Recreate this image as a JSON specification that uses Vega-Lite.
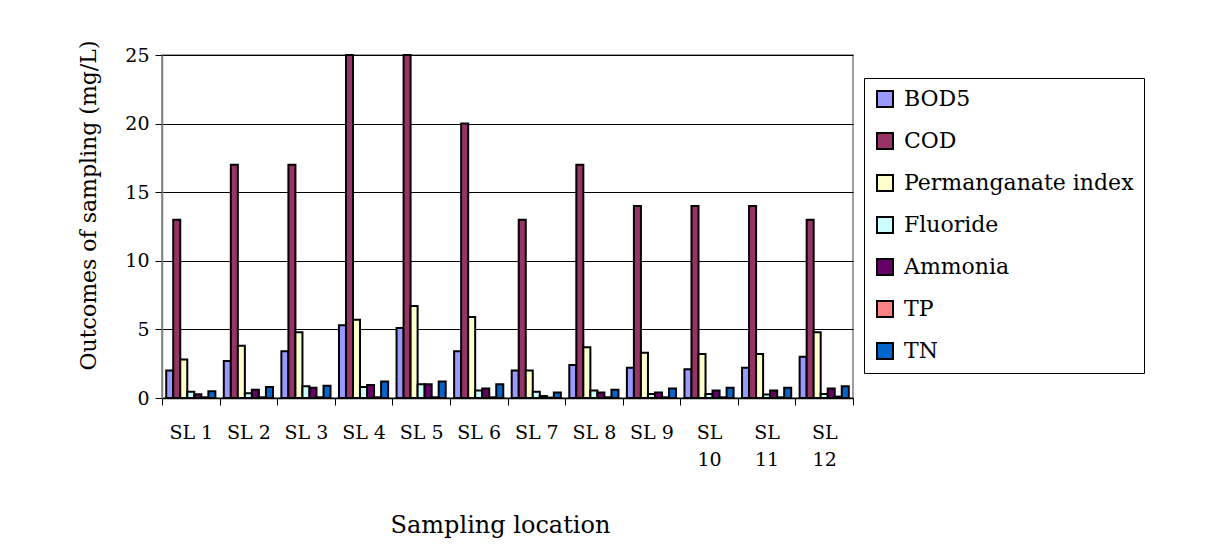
{
  "$schema": "https://vega.github.io/schema/vega-lite/v6.json",
  "width": 691,
  "height": 343,
  "autosize": "none",
  "padding": {"left": 162, "top": 55, "right": 362, "bottom": 153},
  "background": "white",
  "config": {
    "view": {"stroke": "#808080", "strokeWidth": 1.5},
    "font": "DejaVu Serif"
  },
  "data": {"values": [
    {"loc": "SL 1", "param": "BOD5", "value": 2.0},
    {"loc": "SL 1", "param": "COD", "value": 13},
    {"loc": "SL 1", "param": "Permanganate index", "value": 2.8},
    {"loc": "SL 1", "param": "Fluoride", "value": 0.45},
    {"loc": "SL 1", "param": "Ammonia", "value": 0.27},
    {"loc": "SL 1", "param": "TP", "value": 0.05},
    {"loc": "SL 1", "param": "TN", "value": 0.5},
    {"loc": "SL 2", "param": "BOD5", "value": 2.7},
    {"loc": "SL 2", "param": "COD", "value": 17},
    {"loc": "SL 2", "param": "Permanganate index", "value": 3.8},
    {"loc": "SL 2", "param": "Fluoride", "value": 0.35},
    {"loc": "SL 2", "param": "Ammonia", "value": 0.6},
    {"loc": "SL 2", "param": "TP", "value": 0.05},
    {"loc": "SL 2", "param": "TN", "value": 0.8},
    {"loc": "SL 3", "param": "BOD5", "value": 3.4},
    {"loc": "SL 3", "param": "COD", "value": 17},
    {"loc": "SL 3", "param": "Permanganate index", "value": 4.8},
    {"loc": "SL 3", "param": "Fluoride", "value": 0.85},
    {"loc": "SL 3", "param": "Ammonia", "value": 0.75},
    {"loc": "SL 3", "param": "TP", "value": 0.05},
    {"loc": "SL 3", "param": "TN", "value": 0.9},
    {"loc": "SL 4", "param": "BOD5", "value": 5.3},
    {"loc": "SL 4", "param": "COD", "value": 25},
    {"loc": "SL 4", "param": "Permanganate index", "value": 5.7},
    {"loc": "SL 4", "param": "Fluoride", "value": 0.8},
    {"loc": "SL 4", "param": "Ammonia", "value": 0.95},
    {"loc": "SL 4", "param": "TP", "value": 0.05},
    {"loc": "SL 4", "param": "TN", "value": 1.2},
    {"loc": "SL 5", "param": "BOD5", "value": 5.1},
    {"loc": "SL 5", "param": "COD", "value": 25},
    {"loc": "SL 5", "param": "Permanganate index", "value": 6.7},
    {"loc": "SL 5", "param": "Fluoride", "value": 1.0},
    {"loc": "SL 5", "param": "Ammonia", "value": 1.0},
    {"loc": "SL 5", "param": "TP", "value": 0.05},
    {"loc": "SL 5", "param": "TN", "value": 1.2},
    {"loc": "SL 6", "param": "BOD5", "value": 3.4},
    {"loc": "SL 6", "param": "COD", "value": 20},
    {"loc": "SL 6", "param": "Permanganate index", "value": 5.9},
    {"loc": "SL 6", "param": "Fluoride", "value": 0.55},
    {"loc": "SL 6", "param": "Ammonia", "value": 0.7},
    {"loc": "SL 6", "param": "TP", "value": 0.05},
    {"loc": "SL 6", "param": "TN", "value": 1.0},
    {"loc": "SL 7", "param": "BOD5", "value": 2.0},
    {"loc": "SL 7", "param": "COD", "value": 13},
    {"loc": "SL 7", "param": "Permanganate index", "value": 2.0},
    {"loc": "SL 7", "param": "Fluoride", "value": 0.45},
    {"loc": "SL 7", "param": "Ammonia", "value": 0.15},
    {"loc": "SL 7", "param": "TP", "value": 0.03},
    {"loc": "SL 7", "param": "TN", "value": 0.4},
    {"loc": "SL 8", "param": "BOD5", "value": 2.4},
    {"loc": "SL 8", "param": "COD", "value": 17},
    {"loc": "SL 8", "param": "Permanganate index", "value": 3.7},
    {"loc": "SL 8", "param": "Fluoride", "value": 0.55},
    {"loc": "SL 8", "param": "Ammonia", "value": 0.4},
    {"loc": "SL 8", "param": "TP", "value": 0.05},
    {"loc": "SL 8", "param": "TN", "value": 0.6},
    {"loc": "SL 9", "param": "BOD5", "value": 2.2},
    {"loc": "SL 9", "param": "COD", "value": 14},
    {"loc": "SL 9", "param": "Permanganate index", "value": 3.3},
    {"loc": "SL 9", "param": "Fluoride", "value": 0.3},
    {"loc": "SL 9", "param": "Ammonia", "value": 0.4},
    {"loc": "SL 9", "param": "TP", "value": 0.05},
    {"loc": "SL 9", "param": "TN", "value": 0.7},
    {"loc": "SL 10", "param": "BOD5", "value": 2.1},
    {"loc": "SL 10", "param": "COD", "value": 14},
    {"loc": "SL 10", "param": "Permanganate index", "value": 3.2},
    {"loc": "SL 10", "param": "Fluoride", "value": 0.3},
    {"loc": "SL 10", "param": "Ammonia", "value": 0.55},
    {"loc": "SL 10", "param": "TP", "value": 0.05},
    {"loc": "SL 10", "param": "TN", "value": 0.75},
    {"loc": "SL 11", "param": "BOD5", "value": 2.2},
    {"loc": "SL 11", "param": "COD", "value": 14},
    {"loc": "SL 11", "param": "Permanganate index", "value": 3.2},
    {"loc": "SL 11", "param": "Fluoride", "value": 0.25},
    {"loc": "SL 11", "param": "Ammonia", "value": 0.55},
    {"loc": "SL 11", "param": "TP", "value": 0.05},
    {"loc": "SL 11", "param": "TN", "value": 0.75},
    {"loc": "SL 12", "param": "BOD5", "value": 3.0},
    {"loc": "SL 12", "param": "COD", "value": 13},
    {"loc": "SL 12", "param": "Permanganate index", "value": 4.8},
    {"loc": "SL 12", "param": "Fluoride", "value": 0.3},
    {"loc": "SL 12", "param": "Ammonia", "value": 0.7},
    {"loc": "SL 12", "param": "TP", "value": 0.1},
    {"loc": "SL 12", "param": "TN", "value": 0.85}
  ]},
  "mark": {"type": "bar", "stroke": "black", "strokeWidth": 2},
  "encoding": {
    "x": {
      "field": "loc",
      "type": "nominal",
      "sort": null,
      "scale": {"paddingInner": 0, "paddingOuter": 0},
      "axis": {
        "title": "Sampling location",
        "titleFontSize": 24,
        "titleFontWeight": "normal",
        "titleColor": "black",
        "titleX": 338,
        "titleY": 134,
        "titleBaseline": "alphabetic",
        "titleAnchor": null,
        "labelAngle": 0,
        "labelFontSize": 19,
        "labelColor": "black",
        "labelPadding": 18,
        "labelLineHeight": 27,
        "labelExpr": "length(datum.label) > 4 ? split(datum.label, ' ') : datum.label",
        "tickBand": "extent",
        "tickColor": "black",
        "tickSize": 7,
        "domainColor": "black",
        "domainWidth": 1.5,
        "grid": false
      }
    },
    "xOffset": {
      "field": "param",
      "type": "nominal",
      "sort": ["BOD5", "COD", "Permanganate index", "Fluoride", "Ammonia", "TP", "TN"],
      "scale": {"paddingInner": 0, "paddingOuter": 0.6}
    },
    "y": {
      "field": "value",
      "type": "quantitative",
      "scale": {"domain": [0, 25], "nice": false},
      "axis": {
        "title": "Outcomes of sampling (mg/L)",
        "titleFontSize": 22,
        "titleFontWeight": "normal",
        "titleColor": "black",
        "titleX": -62,
        "titleY": 150,
        "titleAngle": -90,
        "titleAlign": "center",
        "titleBaseline": "bottom",
        "values": [0, 5, 10, 15, 20, 25],
        "labelFontSize": 19,
        "labelColor": "black",
        "labelPadding": 6,
        "tickColor": "black",
        "tickSize": 7,
        "domainColor": "#808080",
        "domainWidth": 1.5,
        "grid": true,
        "gridColor": "black",
        "gridWidth": 1
      }
    },
    "color": {
      "field": "param",
      "type": "nominal",
      "sort": ["BOD5", "COD", "Permanganate index", "Fluoride", "Ammonia", "TP", "TN"],
      "scale": {
        "domain": ["BOD5", "COD", "Permanganate index", "Fluoride", "Ammonia", "TP", "TN"],
        "range": ["#9999FF", "#993366", "#FFFFCC", "#CCFFFF", "#660066", "#FF8080", "#0066CC"]
      },
      "legend": {
        "title": null,
        "orient": "none",
        "legendX": 702,
        "legendY": 23,
        "strokeColor": "black",
        "fillColor": "white",
        "padding": 10,
        "symbolType": "square",
        "symbolSize": 256,
        "symbolStrokeColor": "black",
        "symbolStrokeWidth": 2,
        "symbolOpacity": 1,
        "labelFontSize": 22,
        "labelColor": "black",
        "labelOffset": 8,
        "labelLimit": 400,
        "rowPadding": 18
      }
    }
  }
}
